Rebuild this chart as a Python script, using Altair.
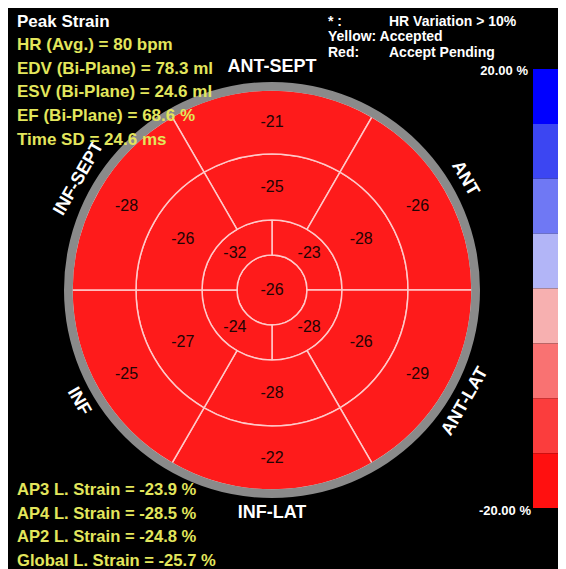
import math
import altair as alt
import pandas as pd

# ---------------- data ----------------
# 6-segment rings, clockwise from the top segment (ANT-SEPT side)
six_starts = [-30, 30, 90, 150, 210, 270]
basal_vals = [-21, -26, -29, -22, -25, -28]
mid_vals = [-25, -28, -26, -28, -27, -26]
# apical ring (4 segments), clockwise from upper-right
four_starts = [0, 90, 180, 270]
apical_vals = [-23, -28, -24, -32]
apex_val = -26

ring_edges = [0, 35, 70, 136, 200]   # apex, apical, mid, basal boundaries
rim = [199.3, 208]

wall_names = ["ANT-SEPT", "ANT", "ANT-LAT", "INF-LAT", "INF", "INF-SEPT"]
wall_theta = [0, 60, 120, 180, 240, 300]
wall_rot = [0, 60, 300, 0, 60, 300]

cb_edges = [20, 15, 10, 5, 0, -5, -10, -15, -20]
cb_colors = ["#0000ff", "#3c46f2", "#6f78f4", "#b2b5f7",
             "#f7b0b0", "#f97272", "#fb3d3d", "#ff1010"]
cb_labels = ["20.00 %", "-20.00 %"]

title_line = "Peak Strain"
info_lines = ["HR (Avg.) = 80 bpm", "EDV (Bi-Plane) = 78.3 ml",
              "ESV (Bi-Plane) = 24.6 ml", "EF (Bi-Plane) = 68.6 %",
              "Time SD = 24.6 ms"]
strain_lines = ["AP3 L. Strain = -23.9 %", "AP4 L. Strain = -28.5 %",
                "AP2 L. Strain = -24.8 %", "Global L. Strain = -25.7 %"]
legend_a = ["* :", "Yellow: Accepted", "Red:"]
legend_b = ["HR Variation > 10%", "", "Accept Pending"]

# ---------------- tables ----------------
rows = []
rows.append(dict(t0=0, t1=360, r0=ring_edges[0], r1=ring_edges[1], v=apex_val))
for s, v in zip(four_starts, apical_vals):
    rows.append(dict(t0=s, t1=s + 90, r0=ring_edges[1], r1=ring_edges[2], v=v))
for s, v in zip(six_starts, mid_vals):
    rows.append(dict(t0=s, t1=s + 60, r0=ring_edges[2], r1=ring_edges[3], v=v))
for s, v in zip(six_starts, basal_vals):
    rows.append(dict(t0=s, t1=s + 60, r0=ring_edges[3], r1=ring_edges[4], v=v))
seg = pd.DataFrame(rows)
seg["tm"] = (seg.t0 + seg.t1) / 2
seg["rm"] = (seg.r0 + seg.r1) / 2
seg.loc[seg.r0 == 0, "rm"] = 0
seg["label"] = seg.v.astype(str)

rim_df = pd.DataFrame([dict(t0=0, t1=360, r0=rim[0], r1=rim[1])])
walls = pd.DataFrame(dict(name=wall_names, t=wall_theta, rot=wall_rot))
walls["r"] = 223

cb = pd.DataFrame(dict(hi=cb_edges[:-1], lo=cb_edges[1:], col=cb_colors))

# ---------------- layout ----------------
W, H = 550, 561
CX, CY = 264, 282
FONT = "Liberation Sans"
YELLOW = "#e3e65c"

theta_sc = alt.Scale(domain=[0, 360], range=[0, 2 * math.pi])
rad_sc = alt.Scale(type="linear", domain=[0, 208], range=[0, 208])

def arc_enc():
    return dict(
        theta=alt.Theta("t0:Q", scale=theta_sc, stack=False),
        theta2="t1:Q",
        radius=alt.Radius("r1:Q", scale=rad_sc),
        radius2="r0:Q",
        x=alt.value(CX), y=alt.value(CY),
    )

wall_layer = alt.Chart(walls).mark_text(
    font=FONT, fontSize=18, fontWeight="bold", color="white",
    align="center", baseline="middle"
).encode(
    theta=alt.Theta("t:Q", scale=theta_sc, stack=False),
    radius=alt.Radius("r:Q", scale=rad_sc),
    angle=alt.Angle("rot:Q", scale=None),
    text="name:N",
    x=alt.value(CX), y=alt.value(CY),
)

seg_layer = alt.Chart(seg).mark_arc(
    fill="#fe1b1b", stroke="#ffcaca", strokeWidth=1.5
).encode(**arc_enc())

rim_layer = alt.Chart(rim_df).mark_arc(fill="#8a8a8a").encode(**arc_enc())

val_layer = alt.Chart(seg).mark_text(
    font=FONT, fontSize=16, color="#220404", align="center", baseline="middle"
).encode(
    theta=alt.Theta("tm:Q", scale=theta_sc, stack=False),
    radius=alt.Radius("rm:Q", scale=rad_sc),
    text="label:N",
    x=alt.value(CX), y=alt.value(CY),
)

cb_layer = alt.Chart(cb).mark_rect().encode(
    y=alt.Y("hi:Q", scale=alt.Scale(domain=[-20, 20], range=[500, 61]), axis=None),
    y2="lo:Q",
    x=alt.value(525), x2=alt.value(550),
    color=alt.Color("col:N", scale=None),
)

def text_block(lines, x0, y0, dy, color, size, weight="bold", align="left"):
    df = pd.DataFrame(dict(txt=lines, i=list(range(len(lines)))))
    return alt.Chart(df).mark_text(
        font=FONT, fontSize=size, fontWeight=weight, color=color,
        align=align, baseline="alphabetic"
    ).transform_calculate(
        yy=f"{y0} + datum.i * {dy}"
    ).encode(
        x=alt.value(x0),
        y=alt.Y("yy:Q", scale=None),
        text="txt:N",
    )

title_layer = text_block([title_line], 9, 19, 0, "white", 17)
info_layer = text_block(info_lines, 9, 42, 23.7, YELLOW, 17)
strain_layer = text_block(strain_lines, 9, 487, 23.6, YELLOW, 16.6)
leg_a = text_block(legend_a, 320, 17.5, 15.5, "white", 14)
leg_b = text_block(legend_b, 381, 17.5, 15.5, "white", 14)
cb_top = text_block([cb_labels[0]], 520, 67, 0, "white", 13, align="right")
cb_bot = text_block([cb_labels[1]], 523, 507, 0, "white", 13, align="right")

chart = alt.layer(
    wall_layer, seg_layer, rim_layer, val_layer, cb_layer,
    title_layer, info_layer, strain_layer, leg_a, leg_b, cb_top, cb_bot
).resolve_scale(y="independent").properties(
    width=W, height=H, background="black", padding=0, autosize="none"
).configure_view(stroke=None)

chart.save("out.html", embed_options={"renderer": "svg", "actions": False})
